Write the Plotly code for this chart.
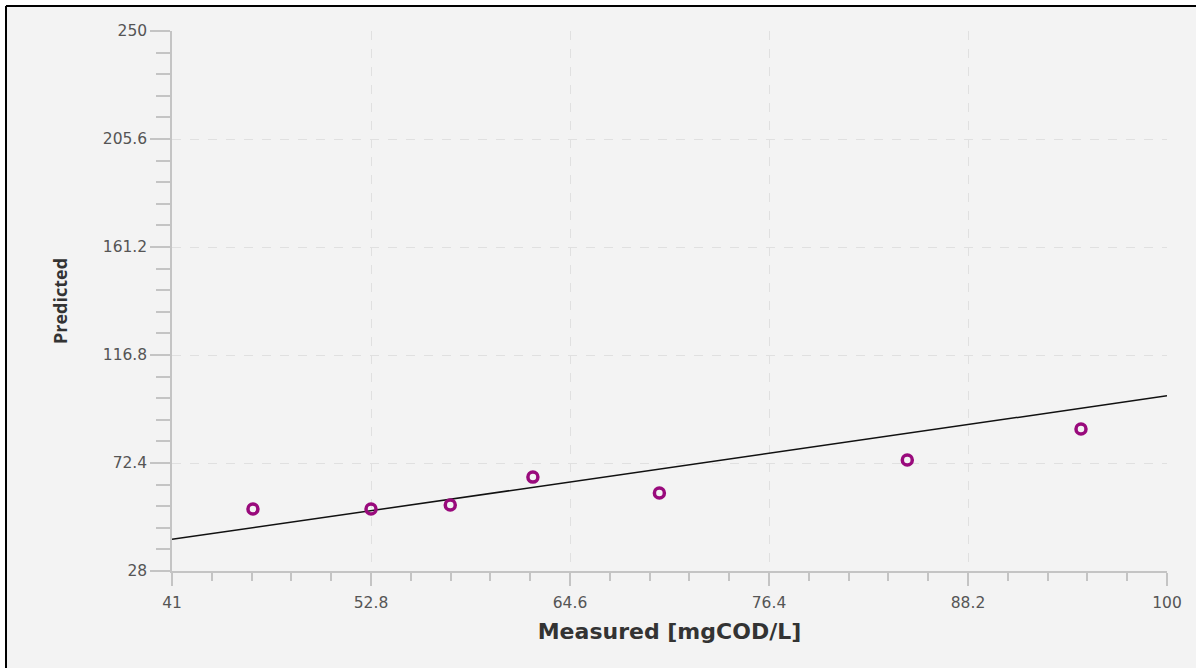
import plotly.graph_objects as go

# Data
measured = [45.8, 52.8, 57.5, 62.4, 69.9, 84.6, 94.9]
predicted = [53.5, 53.5, 55.1, 66.6, 60.1, 73.6, 86.4]
ref_x = [41, 100]
ref_y = [41, 100]
x_ticks = [41, 52.8, 64.6, 76.4, 88.2, 100]
y_ticks = [28, 72.4, 116.8, 161.2, 205.6, 250]

BG = "#f3f3f3"
AX = "#c4c4c4"
GRID = "#e0e0e0"

fig = go.Figure()
fig.add_trace(go.Scatter(x=ref_x, y=ref_y, mode="lines",
                         line=dict(color="#111111", width=1.5),
                         showlegend=False, hoverinfo="skip"))
fig.add_trace(go.Scatter(x=measured, y=predicted, mode="markers",
                         marker=dict(symbol="circle-open", size=10, color="#990a7c",
                                     line=dict(color="#990a7c", width=3.5)),
                         showlegend=False))

tickfont = dict(family="DejaVu Sans, sans-serif", size=15.5, color="#555555")

fig.update_layout(
    width=1196, height=668,
    paper_bgcolor=BG, plot_bgcolor=BG,
    margin=dict(l=172, r=29, t=31, b=97),
    xaxis=dict(range=[41, 100], tickmode="array", tickvals=x_ticks,
               ticktext=[str(v) for v in x_ticks],
               showline=True, linecolor=AX, linewidth=1.5,
               ticks="outside", ticklen=13, tickcolor=AX, tickwidth=1.5,
               ticklabelstandoff=4,
               minor=dict(dtick=2.36, tick0=41, ticks="outside", ticklen=8,
                          tickcolor=AX, tickwidth=1.5, showgrid=False),
               showgrid=True, gridcolor=GRID, griddash="dash", gridwidth=1,
               zeroline=False, tickfont=tickfont,
               title=dict(text="<b>Measured [mgCOD/L]</b>", standoff=12,
                          font=dict(family="DejaVu Sans, sans-serif", size=22, color="#333333"))),
    yaxis=dict(range=[28, 250], tickmode="array", tickvals=y_ticks,
               ticktext=[str(v) for v in y_ticks],
               showline=True, linecolor=AX, linewidth=1.5,
               ticks="outside", ticklen=20, tickcolor=AX, tickwidth=1.5,
               minor=dict(dtick=8.88, tick0=28, ticks="outside", ticklen=14,
                          tickcolor=AX, tickwidth=1.5, showgrid=False),
               showgrid=True, gridcolor=GRID, griddash="dash", gridwidth=1,
               zeroline=False, tickfont=tickfont,
               title=dict(text="<b>Predicted</b>", standoff=30,
                          font=dict(family="Open Sans, sans-serif", size=18, color="#333333"))),
)

# Outer frame: white strip then black border on left and top edges
W, H = 1196, 668
l, r, t, b = 172, 29, 31, 97
pw, ph = W - l - r, H - t - b
def px(x): return (x - l) / pw
def py(y): return 1 - (y - t) / ph
fig.add_shape(type="rect", xref="paper", yref="paper",
              x0=px(0), x1=px(W), y0=py(0), y1=py(5), fillcolor="white", line_width=0, layer="below")
fig.add_shape(type="rect", xref="paper", yref="paper",
              x0=px(0), x1=px(5), y0=py(0), y1=py(H), fillcolor="white", line_width=0, layer="below")
fig.add_shape(type="line", xref="paper", yref="paper",
              x0=px(6), x1=px(W), y0=py(6), y1=py(6), line=dict(color="black", width=2))
fig.add_shape(type="line", xref="paper", yref="paper",
              x0=px(6), x1=px(6), y0=py(6), y1=py(H), line=dict(color="black", width=2))

fig.write_html("out.html")
